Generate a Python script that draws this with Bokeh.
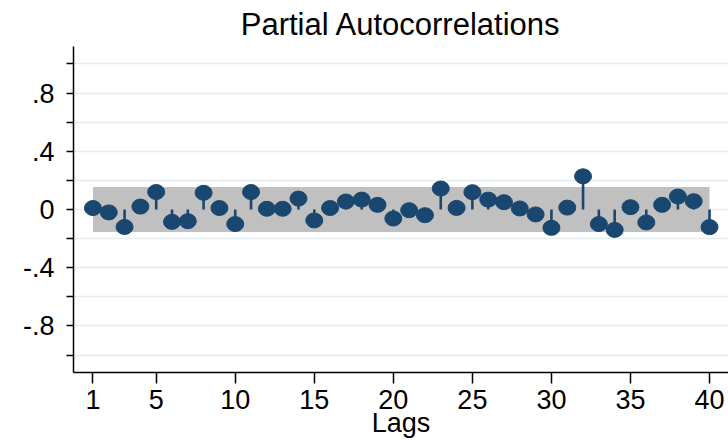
from bokeh.plotting import figure
from bokeh.models import FixedTicker, Range1d
from bokeh.embed import file_html
from bokeh.resources import INLINE

# ---- data ----
lags = list(range(1, 41))
pac = [0.010, -0.020, -0.120, 0.020, 0.120, -0.085, -0.080, 0.115, 0.010, -0.100,
       0.120, 0.005, 0.005, 0.075, -0.075, 0.010, 0.055, 0.068, 0.032, -0.062,
       -0.005, -0.039, 0.144, 0.011, 0.119, 0.068, 0.050, 0.007, -0.034, -0.126,
       0.013, 0.228, -0.100, -0.140, 0.016, -0.089, 0.032, 0.089, 0.057, -0.121]
ci_upper = [0.155] * 40
ci_lower = [-0.155] * 40
x_ticks = [1, 5, 10, 15, 20, 25, 30, 35, 40]
y_major = [-0.8, -0.4, 0.0, 0.4, 0.8]
y_minor = [-1.0, -0.6, -0.2, 0.2, 0.6, 1.0]
y_labels = {-0.8: "-.8", -0.4: "-.4", 0.0: "0", 0.4: ".4", 0.8: ".8"}

FONT = "Liberation Sans"
NAVY = "#1a476f"

p = figure(width=728, height=443, output_backend="svg", toolbar_location=None,
           x_range=Range1d(-0.23, 41.2), y_range=Range1d(-1.12, 1.12),
           min_border_left=73, min_border_right=0, min_border_top=45,
           min_border_bottom=71, title="Partial Autocorrelations")
p.outline_line_color = None
p.background_fill_color = "white"
p.border_fill_color = "white"

p.title.text_font = FONT
p.title.text_font_size = "31px"
p.title.text_font_style = "normal"
p.title.align = "center"
p.title.standoff = 9
p.title.text_color = "black"

# grid lines at every 0.2
p.xgrid.visible = False
p.ygrid.ticker = FixedTicker(ticks=y_major + y_minor)
p.ygrid.grid_line_color = "#e4ecef"
p.ygrid.grid_line_width = 1.5

# axes
xa = p.xaxis[0]
xa.ticker = FixedTicker(ticks=x_ticks)
xa.minor_tick_line_color = None
xa.major_tick_out = 11
xa.major_tick_in = 0
xa.major_label_standoff = 6
xa.axis_label = "Lags"
xa.axis_label_standoff = -4
xa.axis_label_text_font = FONT
xa.axis_label_text_font_size = "27px"
xa.axis_label_text_font_style = "normal"
xa.axis_label_text_color = "black"
xa.major_label_text_font = FONT
xa.major_label_text_font_size = "27px"
xa.major_label_text_color = "black"
xa.axis_line_width = 1.5
xa.major_tick_line_width = 1.5

ya = p.yaxis[0]
ya.ticker = FixedTicker(ticks=y_major, minor_ticks=y_minor)
ya.major_label_overrides = y_labels
ya.major_tick_out = 7
ya.major_tick_in = 0
ya.minor_tick_out = 7
ya.minor_tick_in = 0
ya.major_label_standoff = 12
ya.major_label_text_font = FONT
ya.major_label_text_font_size = "27px"
ya.major_label_text_color = "black"
ya.axis_line_width = 1.5
ya.major_tick_line_width = 1.5
ya.minor_tick_line_width = 1.5

# confidence band
p.varea(x=lags, y1=ci_lower, y2=ci_upper, fill_color="#c0c0c0", fill_alpha=1.0)

# spikes
p.segment(x0=lags, y0=[0] * len(lags), x1=lags, y1=pac, line_color=NAVY, line_width=2.6)

# markers
p.ellipse(x=lags, y=pac, width=17, height=15, width_units="screen", height_units="screen",
          fill_color=NAVY, line_color=NAVY)

open("out.html", "w").write(file_html(p, INLINE))
